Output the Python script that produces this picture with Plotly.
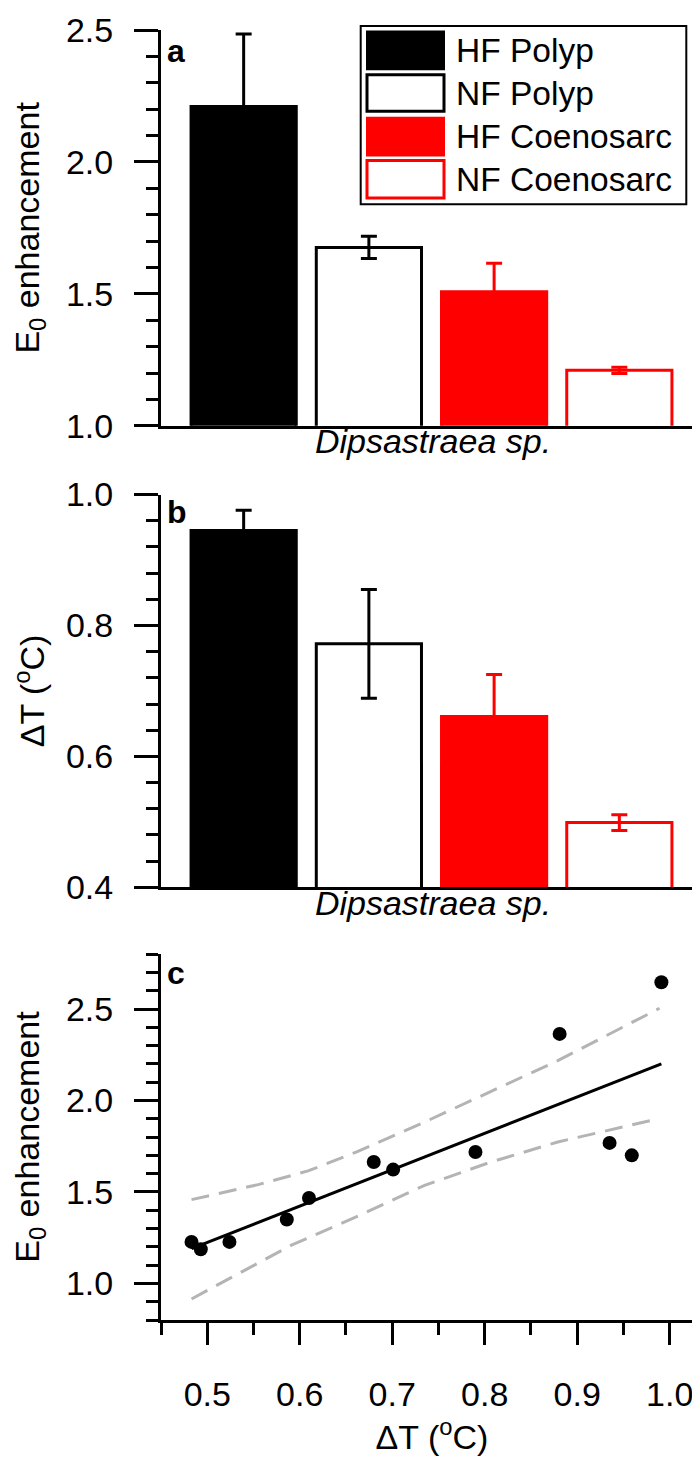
import plotly.graph_objects as go

# ---- data ----
groups = ["HF Polyp", "NF Polyp", "HF Coenosarc", "NF Coenosarc"]
bar_pos = [1, 2, 3, 4]
e0_mean = [2.21, 1.676, 1.508, 1.21]
e0_err = [0.275, 0.042, 0.108, 0.012]
dt_mean = [0.945, 0.772, 0.661, 0.499]
dt_err = [0.031, 0.083, 0.064, 0.012]
fills = ["black", "white", "red", "white"]
edges = ["black", "black", "red", "red"]

dt_pts = [0.483, 0.493, 0.524, 0.586, 0.610, 0.680, 0.701, 0.790, 0.881, 0.935, 0.959, 0.991]
e0_pts = [1.227, 1.187, 1.227, 1.349, 1.467, 1.664, 1.622, 1.718, 2.364, 1.768, 1.700, 2.646]

fit_x = [0.483, 0.991]
fit_y = [1.19, 2.20]
upper_x = [0.483, 0.555, 0.609, 0.661, 0.735, 0.789, 0.879, 0.989]
upper_y = [1.458, 1.540, 1.615, 1.718, 1.882, 2.009, 2.218, 2.504]
lower_x = [0.483, 0.537, 0.591, 0.661, 0.735, 0.807, 0.879, 0.980]
lower_y = [0.915, 1.064, 1.209, 1.364, 1.536, 1.664, 1.773, 1.891]

W, H = 700, 1465
ML, MR, MT, MB = 153, 3, 18, 153
FONT = "Arial, Liberation Sans, sans-serif"
FS = 34


def px(p):
    return (p - ML) / (W - ML - MR)


def py(p):
    return 1 - (p - MT) / (H - MT - MB)


fig = go.Figure()

for i in range(4):
    fig.add_trace(go.Bar(
        x=[bar_pos[i]], y=[e0_mean[i]], width=0.84,
        marker=dict(color=fills[i], line=dict(color=edges[i], width=3)),
        error_y=dict(type="data", array=[e0_err[i]], color=edges[i], thickness=3, width=8),
        xaxis="x", yaxis="y", showlegend=False, name=groups[i],
    ))
    fig.add_trace(go.Bar(
        x=[bar_pos[i]], y=[dt_mean[i]], width=0.84,
        marker=dict(color=fills[i], line=dict(color=edges[i], width=3)),
        error_y=dict(type="data", array=[dt_err[i]], color=edges[i], thickness=3, width=8),
        xaxis="x2", yaxis="y2", showlegend=False, name=groups[i],
    ))

band = dict(color="#b4b4b4", width=3, dash="18px,10px")
fig.add_trace(go.Scatter(x=upper_x, y=upper_y, mode="lines", xaxis="x3", yaxis="y3",
                         line=band, showlegend=False))
fig.add_trace(go.Scatter(x=lower_x, y=lower_y, mode="lines", xaxis="x3", yaxis="y3",
                         line=band, showlegend=False))
fig.add_trace(go.Scatter(x=fit_x, y=fit_y, mode="lines", xaxis="x3", yaxis="y3",
                         line=dict(color="black", width=3), showlegend=False))
fig.add_trace(go.Scatter(x=dt_pts, y=e0_pts, mode="markers", xaxis="x3", yaxis="y3",
                         marker=dict(color="black", size=14), showlegend=False))

axline = dict(showline=True, linewidth=3, linecolor="black", showgrid=False, zeroline=False)
tickfont = dict(family=FONT, size=FS, color="black")


def yax(domain, rng, dtick, minor_dtick, title, anchor):
    return dict(
        domain=domain, range=rng, anchor=anchor, **axline,
        ticks="outside", ticklen=24, tickwidth=3, tickcolor="black",
        tick0=0, dtick=dtick, tickformat=".1f", tickfont=tickfont, ticklabelstandoff=14,
        minor=dict(ticks="outside", ticklen=12, tickwidth=3, tickcolor="black",
                   tick0=0, dtick=minor_dtick),
        title=dict(text=title, font=dict(family=FONT, size=FS), standoff=22),
    )


def xbar(domain, anchor):
    return dict(
        domain=domain, range=[0.34, 4.684], anchor=anchor, **axline,
        ticks="", showticklabels=False,
        title=dict(text="<i>Dipsastraea sp.</i>", font=dict(family=FONT, size=FS), standoff=2),
    )


ya = [py(415), 1.0]
yb = [py(878), py(484)]
yc = [0.0, py(945)]

fig.update_layout(
    width=W, height=H,
    margin=dict(l=ML, r=MR, t=MT, b=MB),
    paper_bgcolor="white", plot_bgcolor="white",
    font=dict(family=FONT, size=FS, color="black"),
    barmode="overlay",
    xaxis=xbar([0, 1], "y"),
    yaxis=yax(ya, [1.0, 2.5], 0.5, 0.1, "E<sub>0</sub> enhancement", "x"),
    xaxis2=xbar([0, 1], "y2"),
    yaxis2=yax(yb, [0.4, 1.0], 0.2, 0.04, "ΔT (<sup>o</sup>C)", "x2"),
    xaxis3=dict(
        domain=[0, px(695)], range=[0.45, 1.036], anchor="y3", **axline,
        ticks="outside", ticklen=22, tickwidth=3, tickcolor="black",
        tick0=0, dtick=0.1, tickformat=".1f", tickfont=tickfont, ticklabelstandoff=20,
        minor=dict(ticks="outside", ticklen=12, tickwidth=3, tickcolor="black", tick0=0, dtick=0.05),
        title=dict(text="ΔT (<sup>o</sup>C)", font=dict(family=FONT, size=FS), standoff=12),
    ),
    yaxis3=yax(yc, [0.8, 2.8], 0.5, 0.1, "E<sub>0</sub> enhancement", "x3"),
)

# panel letters
for letter, yc_px in [("a", 39), ("b", 501), ("c", 964)]:
    fig.add_annotation(text=f"<b>{letter}</b>", xref="paper", yref="paper",
                       x=px(157), y=py(yc_px), xanchor="left", yanchor="middle",
                       showarrow=False, font=dict(family=FONT, size=32, color="black"))

# legend box drawn by hand (large swatches)
fig.add_shape(type="rect", xref="paper", yref="paper", x0=px(352.7), x1=px(678.3),
              y0=py(14), y1=py(192.7), line=dict(color="black", width=2), fillcolor="white",
              layer="above")
sw_rows = [(18.5, 58.5), (63, 99.5), (105, 145), (149, 186.5)]
for i, (t, b) in enumerate(sw_rows):
    inset = 0 if fills[i] != "white" else 1
    fig.add_shape(type="rect", xref="paper", yref="paper",
                  x0=px(358 + inset), x1=px(437 - inset), y0=py(b), y1=py(t),
                  fillcolor=fills[i], line=dict(color=edges[i], width=3 if fills[i] == "white" else 0),
                  layer="above")
    fig.add_annotation(text=groups[i], xref="paper", yref="paper",
                       x=px(446), y=py((t + b) / 2), xanchor="left", yanchor="middle",
                       showarrow=False, font=dict(family=FONT, size=33.5, color="black"))

fig.write_html("out.html")
